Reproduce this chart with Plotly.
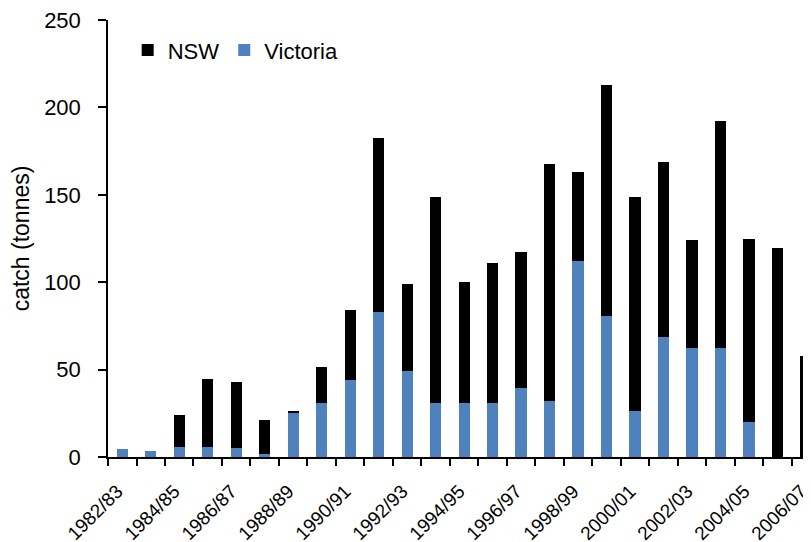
import plotly.graph_objects as go

seasons = ["1982/83", "1983/84", "1984/85", "1985/86", "1986/87", "1987/88", "1988/89",
           "1989/90", "1990/91", "1991/92", "1992/93", "1993/94", "1994/95", "1995/96",
           "1996/97", "1997/98", "1998/99", "1999/00", "2000/01", "2001/02", "2002/03",
           "2003/04", "2004/05", "2005/06", "2006/07"]
victoria = [4.7, 3.7, 6.0, 6.0, 4.9, 1.6, 25.7, 30.8, 43.8, 82.9, 49.4, 31.0, 31.0, 31.0,
            39.6, 32.0, 112.1, 80.9, 26.6, 68.8, 62.3, 62.3, 20.2, 0, 0]
nsw = [0, 0, 18.3, 38.8, 37.8, 19.5, 0.8, 20.9, 40.1, 99.7, 49.8, 118.0, 69.3, 80.2,
       77.9, 135.5, 50.8, 131.9, 122.4, 99.7, 61.7, 129.9, 104.8, 119.6, 58.0]
y_ticks = [0, 50, 100, 150, 200, 250]

tick_text = [s if i % 2 == 0 else "" for i, s in enumerate(seasons)]

FONT = "Liberation Sans, Arial, sans-serif"

fig = go.Figure()
fig.add_trace(go.Bar(x=seasons, y=victoria, name="Victoria",
                     marker=dict(color="#4F81BD", line=dict(width=0))))
fig.add_trace(go.Bar(x=seasons, y=nsw, name="NSW",
                     marker=dict(color="#000000", line=dict(width=0))))

fig.update_layout(
    width=803, height=534,
    margin=dict(l=100, r=0, t=12, b=85),
    barmode="stack", bargap=0.6,
    plot_bgcolor="white", paper_bgcolor="white",
    font=dict(family=FONT, size=18, color="black"),
    legend=dict(orientation="h", traceorder="reversed",
                x=0.028, y=0.931, xanchor="left", yanchor="middle",
                font=dict(size=22), bgcolor="rgba(0,0,0,0)",
                itemclick=False),
    xaxis=dict(type="category", tickmode="array", tickvals=seasons, ticktext=tick_text,
               tickson="boundaries", ticks="outside", ticklen=7, tickwidth=1.5,
               tickcolor="black", tickangle=-45, showline=True, linecolor="black",
               linewidth=1.5, showgrid=False, range=[-0.5, 24.17], automargin=False,
               tickfont=dict(size=19), ticklabelstandoff=14, ticklabelshift=-5,
               ticklabeloverflow="allow"),
    yaxis=dict(range=[0, 250], tickmode="array", tickvals=y_ticks, ticks="outside",
               ticklen=8, tickwidth=1.5, tickcolor="black", showline=True,
               linecolor="black", linewidth=1.5, showgrid=False, zeroline=False,
               automargin=False, ticklabeloverflow="allow",
               title=dict(text="catch (tonnes)", font=dict(size=23), standoff=8),
               tickfont=dict(size=22), ticklabelstandoff=13),
)

fig.write_html("out.html")
